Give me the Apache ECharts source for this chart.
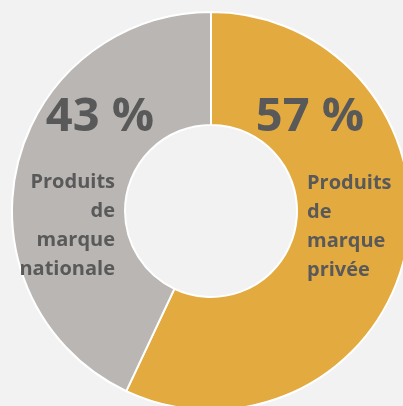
<!DOCTYPE html>
<html>
<head>
<meta charset="utf-8">
<script src="https://cdn.jsdelivr.net/npm/echarts@6/dist/echarts.min.js"></script>
<style>
html,body{margin:0;padding:0;background:#F2F2F2;}
#c{width:403px;height:406px;}
</style>
</head>
<body>
<div id="c"></div>
<script>
const categories = ['Produits\nde\nmarque\nprivée', 'Produits\nde\nmarque\nnationale'];
const values = [57, 43];
const colors = ['#E3AA40', '#BAB6B3'];

const chart = echarts.init(document.getElementById('c'), null, {renderer: 'canvas'});
const data = categories.map((n, i) => ({name: n, value: values[i], itemStyle: {color: colors[i]}}));

const pctPos = [{x: 310, y: 118}, {x: 100, y: 118}];
const namePos = [{x: 307, y: 227, align: 'left'}, {x: 115, y: 226, align: 'right'}];

const base = {
  type: 'pie',
  center: [211, 211],
  radius: [86, 199],
  startAngle: 90,
  clockwise: true,
  silent: true,
  animation: false,
  labelLine: {show: false}
};

chart.setOption({
  backgroundColor: '#F2F2F2',
  series: [
    Object.assign({}, base, {
      data: data,
      itemStyle: {borderColor: '#FFFFFF', borderWidth: 2},
      label: {
        show: true,
        position: 'inside',
        formatter: p => p.value + ' %',
        fontFamily: 'Open Sans',
        fontWeight: 'bold',
        fontSize: 47,
        color: '#595959'
      },
      labelLayout: p => ({x: pctPos[p.dataIndex].x, y: pctPos[p.dataIndex].y, align: 'center', verticalAlign: 'middle'})
    }),
    Object.assign({}, base, {
      data: data.map(d => ({name: d.name, value: d.value, itemStyle: {color: 'rgba(0,0,0,0)'}})),
      itemStyle: {borderWidth: 0},
      label: {
        show: true,
        position: 'inside',
        formatter: p => p.name,
        fontFamily: 'Open Sans',
        fontWeight: 'bold',
        fontSize: 20,
        lineHeight: 29,
        color: '#595959'
      },
      labelLayout: p => ({x: namePos[p.dataIndex].x, y: namePos[p.dataIndex].y, align: namePos[p.dataIndex].align, verticalAlign: 'middle'})
    })
  ]
});
</script>
</body>
</html>
